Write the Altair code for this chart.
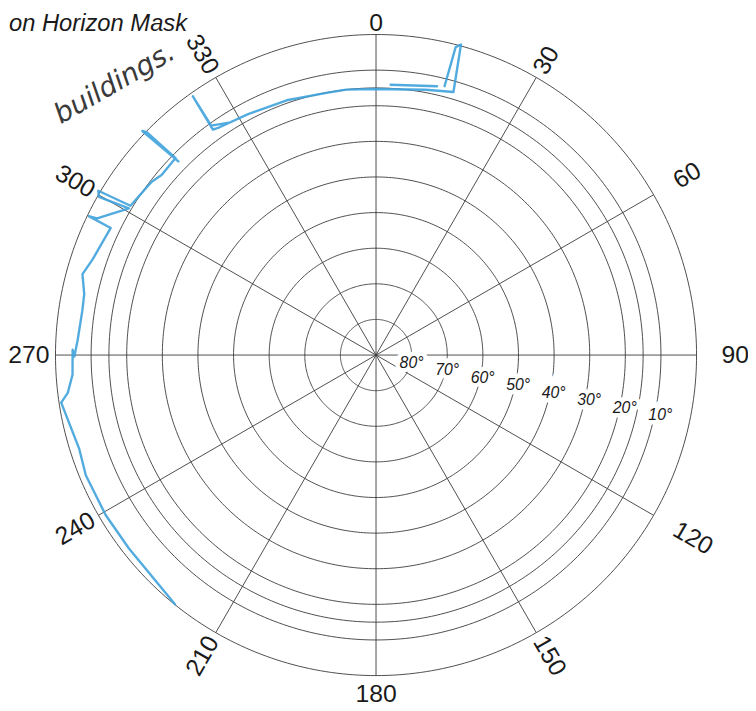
import altair as alt
import pandas as pd

# ---- data ----
ring_elev = [80, 70, 60, 50, 40, 30, 20, 15, 10, 0]
label_elev = [80, 70, 60, 50, 40, 30, 20, 10]
spoke_az = [0, 30, 60, 90, 120, 150, 180, 210, 240, 270, 300, 330]
spoke_text = ["0", "30", "60", "90", "120", "150", "180", "210", "240", "270", "300", "330"]

# horizon mask trace (azimuth deg, elevation deg), drawn as separate strokes
seg1_az = [14.3, 14.5, 15.3, 16.4, 10.6, 0.0, 353.6, 349.3, 340.7, 331.9, 325.5, 324.1, 324.7, 324.3, 327.4]
seg1_el = [12.1, 0.7, -0.4, 13.0, 14.2, 15.3, 15.0, 15.1, 14.2, 13.4, 12.4, 11.9, 1.0, 10.7, 12.6]
seg2_az = [314.4, 313.8, 314.2, 314.5, 310.0, 307.7, 301.3, 300.6, 299.7, 300.7, 296.1, 295.8,
           295.6, 288.6, 285.4, 281.8, 278.6, 272.8, 269.7, 271.0, 266.3, 263.0, 261.4,
           252.4, 247.5, 239.4, 232.0, 218.9]
seg2_el = [12.3, -0.9, 0.3, 11.1, 11.4, 10.4, 9.3, -0.6, 0.4, 9.3, 2.8, 0.4,
           7.4, 6.0, 4.5, 6.3, 6.6, 6.1, 5.3, 4.8, 4.6, 2.8, 0.6,
           2.6, 1.8, 1.8, 1.9, 0.1]
seg3_az = [3.1, 12.8]
seg3_el = [14.0, 12.6]

title_text = "on Horizon Mask"
note_text = "buildings."

rows = []
for s, (azs, els) in enumerate([(seg1_az, seg1_el), (seg2_az, seg2_el), (seg3_az, seg3_el)]):
    for i, (a, e) in enumerate(zip(azs, els)):
        rows.append({"seg": s, "i": i, "az": a, "el": e})
mask_df = pd.DataFrame(rows)
labels_df = pd.DataFrame({"el": label_elev, "txt": [f"{e}°" for e in label_elev]})
spokes_df = pd.DataFrame({"az": spoke_az, "txt": spoke_text})

FONT = "Liberation Sans"
GRID = "#3a3a3a"
xs = alt.Scale(domain=[-90, 90], nice=False, zero=False)
ys = alt.Scale(domain=[-90, 90], nice=False, zero=False)
ring_list = "[" + ",".join(str(e) for e in ring_elev) + "]"
N = len(ring_elev)

# elevation circles: one polyline per ring, sampled every degree of azimuth
rings = alt.Chart(alt.sequence(0, 361 * N, 1, as_="k")).transform_calculate(
    ring="floor(datum.k / 361)",
    t="datum.k % 361",
).transform_calculate(
    zen=f"90 - {ring_list}[datum.ring]",
).transform_calculate(
    x="datum.zen * sin(datum.t * PI / 180)",
    y="datum.zen * cos(datum.t * PI / 180)",
).mark_line(color=GRID, strokeWidth=0.9).encode(
    x=alt.X("x:Q", scale=xs, axis=None),
    y=alt.Y("y:Q", scale=ys, axis=None),
    detail="ring:N",
    order="t:Q",
)

spokes = alt.Chart(spokes_df).transform_calculate(
    x0="0", y0="0",
    x1="90 * sin(datum.az * PI / 180)",
    y1="90 * cos(datum.az * PI / 180)",
).mark_rule(color=GRID, strokeWidth=0.9).encode(
    x=alt.X("x0:Q", scale=xs, axis=None),
    y=alt.Y("y0:Q", scale=ys, axis=None),
    x2="x1:Q",
    y2="y1:Q",
)

lab_base = alt.Chart(labels_df).transform_calculate(
    x="(90 - datum.el) * 1.02 * sin(102 * PI / 180)",
    y="(90 - datum.el) * 1.02 * cos(102 * PI / 180)",
)
lab_enc = dict(x=alt.X("x:Q", scale=xs, axis=None), y=alt.Y("y:Q", scale=ys, axis=None), text="txt:N")
lab_halo = lab_base.mark_text(font=FONT, fontSize=16, fontStyle="italic", stroke="white",
                              strokeWidth=9, fill="white", align="center", baseline="middle").encode(**lab_enc)
lab_text = lab_base.mark_text(font=FONT, fontSize=16, fontStyle="italic", color="#1a1a1a",
                              align="center", baseline="middle").encode(**lab_enc)

az_base = alt.Chart(spokes_df).transform_calculate(
    r="datum.az >= 60 && datum.az <= 120 ? 97 : 91.7",
).transform_calculate(
    x="datum.r * sin(datum.az * PI / 180)",
    y="datum.r * cos(datum.az * PI / 180)",
    ang="datum.az % 90 == 0 ? 0 : (datum.az < 180 ? (datum.az + 270) % 360 : (datum.az + 90) % 360)",
)
az_base_tb = alt.Chart(spokes_df).transform_calculate(
    x="91.0 * sin(datum.az * PI / 180)",
    y="91.0 * cos(datum.az * PI / 180)",
    ang="0",
)
az_enc = dict(x=alt.X("x:Q", scale=xs, axis=None), y=alt.Y("y:Q", scale=ys, axis=None),
              text="txt:N", angle=alt.Angle("ang:Q", scale=None))
az_style = dict(font=FONT, fontSize=25, color="#1a1a1a")
az_right = az_base.transform_filter("datum.az > 0 && datum.az < 180").mark_text(
    align="left", baseline="middle", **az_style).encode(**az_enc)
az_left = az_base.transform_filter("datum.az > 180").mark_text(
    align="right", baseline="middle", **az_style).encode(**az_enc)
az_top = az_base_tb.transform_filter("datum.az == 0").mark_text(
    align="center", baseline="alphabetic", **az_style).encode(**az_enc)
az_bot = az_base_tb.transform_filter("datum.az == 180").mark_text(
    align="center", baseline="top", dy=3, **az_style).encode(**az_enc)

mask = alt.Chart(mask_df).transform_calculate(
    x="(90 - datum.el) * sin(datum.az * PI / 180)",
    y="(90 - datum.el) * cos(datum.az * PI / 180)",
).mark_line(color="#3fa2dc", strokeWidth=2.4, opacity=0.9, strokeJoin="round", strokeCap="round").encode(
    x=alt.X("x:Q", scale=xs, axis=None),
    y=alt.Y("y:Q", scale=ys, axis=None),
    detail="seg:N",
    order="i:Q",
)

title = alt.Chart(pd.DataFrame({"t": [title_text]})).mark_text(
    font=FONT, fontSize=24, fontStyle="italic", color="#1a1a1a", align="left", baseline="alphabetic"
).encode(text="t:N", x=alt.value(-47), y=alt.value(-4))

note = alt.Chart(pd.DataFrame({"t": [note_text]})).mark_text(
    font="DejaVu Sans", fontSize=28, fontStyle="italic", fontWeight=300, color="#3a3a3a",
    align="center", baseline="middle", angle=330
).encode(text="t:N", x=alt.value(60), y=alt.value(50))

chart = alt.layer(
    rings, spokes, lab_halo, lab_text, mask, az_right, az_left, az_top, az_bot, title, note
).properties(
    width=648, height=648, autosize="none",
    padding={"left": 48, "top": 23, "right": 52, "bottom": 32},
).configure_view(strokeWidth=0)

chart.save("out.html", embed_options={"renderer": "svg", "actions": False})
